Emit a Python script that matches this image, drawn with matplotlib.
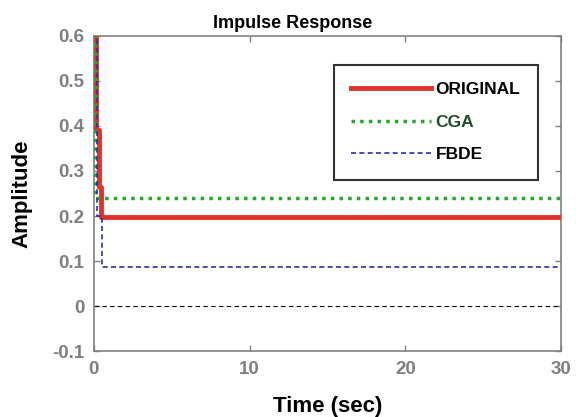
import numpy as np
import matplotlib.pyplot as plt

plt.rcParams['font.family'] = ['Liberation Sans', 'DejaVu Sans']
plt.rcParams['font.weight'] = 'bold'

# step responses (time in sec, amplitude)
t_orig = [0, 0.15, 0.3, 0.45, 30]
y_orig = [0.66, 0.39, 0.265, 0.198, 0.198]
t_cga = [0, 0.08, 30]
y_cga = [0.66, 0.24, 0.24]
t_fbde = [0, 0.2, 0.55, 30]
y_fbde = [0.66, 0.2, 0.087, 0.087]

xticks = [0, 10, 20, 30]
yticks = [-0.1, 0, 0.1, 0.2, 0.3, 0.4, 0.5, 0.6]

fig = plt.figure(figsize=(5.76, 4.17), dpi=100)
ax = fig.add_axes([0.163, 0.158, 0.811, 0.756])

ax.axhline(0, color='black', lw=0.8, ls=(0, (4, 3)))
ax.plot(t_orig, y_orig, drawstyle='steps-post', color='#e0312a', lw=3.5, label='ORIGINAL', zorder=3)
ax.plot(t_cga, y_cga, drawstyle='steps-post', color='#22aa22', lw=2.5, ls=(0, (1, 1.5)), label='CGA', zorder=4)
ax.plot(t_fbde, y_fbde, drawstyle='steps-post', color='#2233aa', lw=1.2, ls=(0, (3, 2)), label='FBDE', zorder=5)

ax.set_xlim(0, 30)
ax.set_ylim(-0.1, 0.6)
ax.set_xticks(xticks)
ax.set_yticks(yticks)
ax.set_yticklabels(['-0.1', '0', '0.1', '0.2', '0.3', '0.4', '0.5', '0.6'])
ax.tick_params(direction='in', colors='#808080', labelsize=13.5, top=True, right=True,
               length=4, width=1, pad=7)
for lab in ax.get_xticklabels() + ax.get_yticklabels():
    lab.set_fontweight('bold')
for s in ax.spines.values():
    s.set_color('#808080')
    s.set_linewidth(1.2)

ax.set_title('Impulse Response', fontsize=13, fontweight='bold', pad=6, x=0.426)
ax.set_xlabel('Time (sec)', fontsize=16, fontweight='bold', labelpad=13)
ax.set_ylabel('Amplitude', fontsize=16, fontweight='bold', labelpad=14)

leg = ax.legend(loc='upper left', bbox_to_anchor=(0.514, 0.908), borderaxespad=0,
                handlelength=4.6, fontsize=12.5, frameon=True, fancybox=False, edgecolor='black',
                borderpad=1.0, labelspacing=1.0, handletextpad=0.25)
leg.get_frame().set_linewidth(1.5)
leg.texts[1].set_color('#1e4d2b')
for txt in leg.texts:
    txt.set_fontweight('bold')

fig.savefig('out.png', dpi=100)
